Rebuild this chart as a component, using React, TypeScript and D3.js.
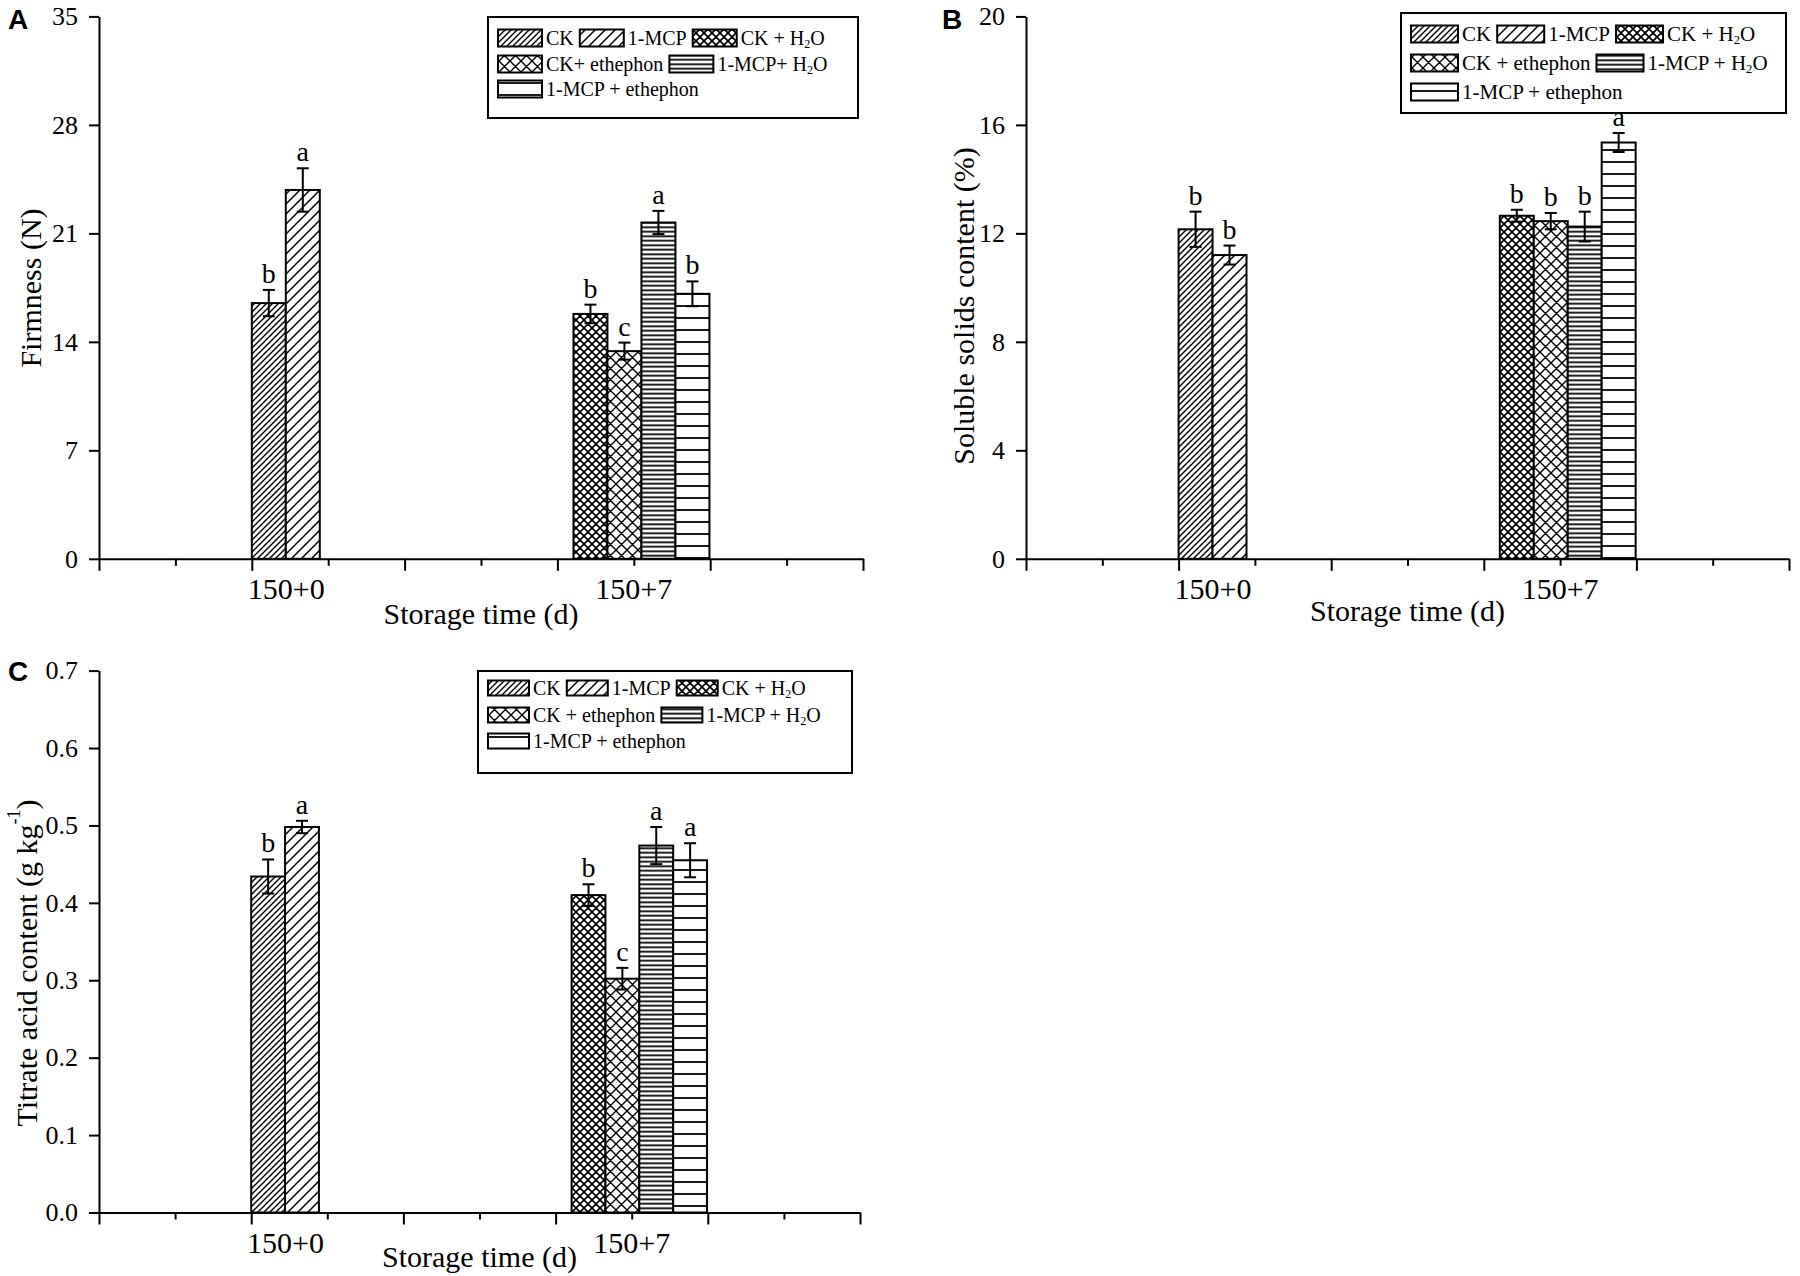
import { useEffect, useRef } from "react"
import * as d3 from "d3"

// categories
const groups = ["150+0", "150+7"]
const groupOf = [0, 0, 1, 1, 1, 1]
const treatments = ["CK", "1-MCP", "CK + H2O", "CK + ethephon", "1-MCP + H2O", "1-MCP + ethephon"]
const groupCenter = [2.445, 7.1]
const groupLabelAt = [2.45, 7.0]
const barW = 0.445

// A: firmness
const firmness = [16.5, 23.8, 15.8, 13.4, 21.7, 17.1]
const firmnessErr = [0.85, 1.4, 0.6, 0.55, 0.75, 0.8]
const firmnessSig = ["b", "a", "b", "c", "a", "b"]
const firmnessTicks = [0, 7, 14, 21, 28, 35]

// B: soluble solids
const soluble = [12.15, 11.2, 12.65, 12.45, 12.25, 15.35]
const solubleErr = [0.65, 0.35, 0.22, 0.3, 0.55, 0.35]
const solubleSig = ["b", "b", "b", "b", "b", "a"]
const solubleTicks = [0, 4, 8, 12, 16, 20]

// C: titrate acid
const titrate = [0.434, 0.498, 0.41, 0.302, 0.474, 0.455]
const titrateErr = [0.022, 0.008, 0.014, 0.014, 0.024, 0.022]
const titrateSig = ["b", "a", "b", "c", "a", "a"]
const titrateTicks = [0, 0.1, 0.2, 0.3, 0.4, 0.5, 0.6, 0.7]

const legendA = ["CK", "1-MCP", "CK + H2O", "CK+ ethephon", "1-MCP+ H2O", "1-MCP + ethephon"]
const legendRows = [[0, 1, 2], [3, 4], [5]]
const patternIds = ["p-ck", "p-mcp", "p-ckh2o", "p-cketh", "p-mcph2o", "p-mcpeth"]

const SERIF = "'Liberation Serif', 'Times New Roman', serif"
const SANS = "'Liberation Sans', Arial, sans-serif"

const panels = [
  {
    tag: "A", tagX: 8, tagY: 29,
    values: firmness, errors: firmnessErr, sig: firmnessSig, ticks: firmnessTicks, yMax: 35, fmt: d3.format("d"),
    left: 99, right: 863, top: 16.4, bottom: 558.8,
    yTitle: "Firmness (N)", yTitleX: 30, yTitleY: 288, xTitleDy: 65,
    legend: { labels: legendA, x: 488, y: 17, w: 370, h: 101, rows: [21, 47, 72], sw: 44, sh: 17, fs: 20 },
  },
  {
    tag: "B", tagX: 942, tagY: 29,
    values: soluble, errors: solubleErr, sig: solubleSig, ticks: solubleTicks, yMax: 20, fmt: d3.format("d"),
    left: 1026, right: 1789, top: 16.4, bottom: 558.8,
    yTitle: "Soluble solids content (%)", yTitleX: 963, yTitleY: 306, xTitleDy: 62,
    legend: { labels: treatments, x: 1401, y: 13, w: 385, h: 100, rows: [21, 50, 79], sw: 47, sh: 17, fs: 21 },
  },
  {
    tag: "C", tagX: 8, tagY: 681,
    values: titrate, errors: titrateErr, sig: titrateSig, ticks: titrateTicks, yMax: 0.7, fmt: d3.format(".1f"),
    left: 99, right: 860, top: 670.6, bottom: 1212.5,
    yTitle: "Titrate acid content (g kg", yTitleX: 26, yTitleY: 963, xTitleDy: 54,
    legend: { labels: treatments, x: 478, y: 671, w: 374, h: 102, rows: [17, 44, 70], sw: 41, sh: 15, fs: 20 },
  },
]

function barLeft(i: number) {
  const gi = groupOf[i]
  const members = groupOf.map((g, j) => (g === gi ? j : -1)).filter((j) => j >= 0)
  const k = members.indexOf(i)
  return groupCenter[gi] - (members.length * barW) / 2 + k * barW
}

function writeLabel(sel: any, label: string, fs: number) {
  const parts = label.split("H2O")
  sel.append("tspan").text(parts[0] + (parts.length > 1 ? "H" : ""))
  if (parts.length > 1) {
    sel.append("tspan").attr("font-size", fs * 0.6).attr("dy", fs * 0.28).text("2")
    sel.append("tspan").attr("dy", -fs * 0.28).text("O" + parts[1])
  }
}

export default function App() {
  const svgRef = useRef<SVGSVGElement>(null)

  useEffect(() => {
    if (!svgRef.current) return
    const svg = d3.select(svgRef.current)
    svg.selectAll("*").remove()

    // hatch patterns
    const defs = svg.append("defs")
    const addPattern = (id: string, w: number, h: number, d: string, sw: number) => {
      const pat = defs.append("pattern").attr("id", id).attr("patternUnits", "userSpaceOnUse").attr("width", w).attr("height", h)
      pat.append("rect").attr("width", w).attr("height", h).attr("fill", "#fff")
      pat.append("path").attr("d", d).attr("stroke", "#000").attr("stroke-width", sw).attr("fill", "none")
    }
    const slash = (w: number) =>
      `M0,${w} L${w},0 M${-w / 2},${w / 2} L${w / 2},${-w / 2} M${w / 2},${w * 1.5} L${w * 1.5},${w / 2}`
    const back = (w: number) =>
      `M0,0 L${w},${w} M${-w / 2},${w / 2} L${w / 2},${w * 1.5} M${w / 2},${-w / 2} L${w * 1.5},${w / 2}`
    addPattern("p-ck", 6, 6, slash(6), 1.4)
    addPattern("p-mcp", 10, 10, slash(10), 1.5)
    addPattern("p-ckh2o", 8, 8, slash(8) + back(8), 1.7)
    addPattern("p-cketh", 11, 11, slash(11) + back(11), 1.4)
    addPattern("p-mcph2o", 8, 4.5, "M0,2.25 L8,2.25", 1.8)
    addPattern("p-mcpeth", 8, 12, "M0,6 L8,6", 1.8)

    panels.forEach((p) => {
      const x = d3.scaleLinear().domain([0, 10]).range([p.left, p.right])
      const y = d3.scaleLinear().domain([0, p.yMax]).range([p.bottom, p.top])
      const g = svg.append("g")

      const data = p.values.map((v, i) => ({ i, v, e: p.errors[i], s: p.sig[i] }))

      // bars
      g.selectAll("rect.bar")
        .data(data)
        .join("rect")
        .attr("class", "bar")
        .attr("x", (d) => x(barLeft(d.i)))
        .attr("width", (d) => x(barLeft(d.i) + barW) - x(barLeft(d.i)))
        .attr("y", (d) => y(d.v))
        .attr("height", (d) => y(0) - y(d.v))
        .attr("fill", (d) => `url(#${patternIds[d.i]})`)
        .attr("stroke", "#000")
        .attr("stroke-width", 2)

      // error bars
      const cx = (d: { i: number }) => x(barLeft(d.i) + barW / 2)
      const eb = g.selectAll("g.err").data(data).join("g").attr("class", "err").attr("stroke", "#000").attr("stroke-width", 2)
      eb.append("line").attr("x1", cx).attr("x2", cx).attr("y1", (d) => y(d.v - d.e)).attr("y2", (d) => y(d.v + d.e))
      eb.append("line").attr("x1", (d) => cx(d) - 6).attr("x2", (d) => cx(d) + 6).attr("y1", (d) => y(d.v + d.e)).attr("y2", (d) => y(d.v + d.e))
      eb.append("line").attr("x1", (d) => cx(d) - 6).attr("x2", (d) => cx(d) + 6).attr("y1", (d) => y(d.v - d.e)).attr("y2", (d) => y(d.v - d.e))

      // significance letters
      g.selectAll("text.sig")
        .data(data)
        .join("text")
        .attr("class", "sig")
        .attr("x", cx)
        .attr("y", (d) => y(d.v + d.e) - 7)
        .attr("text-anchor", "middle")
        .attr("font-family", SERIF)
        .attr("font-size", 28)
        .text((d) => d.s)

      // y axis
      const yAxis = g
        .append("g")
        .attr("transform", `translate(${p.left},0)`)
        .call(d3.axisLeft(y).tickValues(p.ticks).tickSize(10).tickSizeOuter(0).tickPadding(11).tickFormat(p.fmt as any))
      yAxis.selectAll("path, line").attr("stroke", "#000").attr("stroke-width", 2)
      yAxis.selectAll("text").attr("font-family", SERIF).attr("font-size", 26).attr("fill", "#000")

      // x axis: major and minor ticks
      const xMajor = g
        .append("g")
        .attr("transform", `translate(0,${p.bottom})`)
        .call(d3.axisBottom(x).tickValues([0, 2, 4, 6, 8, 10]).tickSize(12).tickSizeOuter(0).tickFormat(() => ""))
      xMajor.selectAll("path, line").attr("stroke", "#000").attr("stroke-width", 2)
      const xMinor = g
        .append("g")
        .attr("transform", `translate(0,${p.bottom})`)
        .call(d3.axisBottom(x).tickValues([1, 3, 5, 7, 9]).tickSize(7).tickSizeOuter(0).tickFormat(() => ""))
      xMinor.select(".domain").remove()
      xMinor.selectAll("line").attr("stroke", "#000").attr("stroke-width", 2)

      // group labels
      g.selectAll("text.grp")
        .data(groups)
        .join("text")
        .attr("class", "grp")
        .attr("x", (_, i) => x(groupLabelAt[i]))
        .attr("y", p.bottom + 40)
        .attr("text-anchor", "middle")
        .attr("font-family", SERIF)
        .attr("font-size", 30)
        .text((d) => d)

      // axis titles
      g.append("text")
        .attr("x", (p.left + p.right) / 2)
        .attr("y", p.bottom + p.xTitleDy)
        .attr("text-anchor", "middle")
        .attr("font-family", SERIF)
        .attr("font-size", 30)
        .text("Storage time (d)")

      const yt = g
        .append("text")
        .attr("transform", `translate(${p.yTitleX},${p.yTitleY}) rotate(-90)`)
        .attr("text-anchor", "middle")
        .attr("dominant-baseline", "central")
        .attr("font-family", SERIF)
        .attr("font-size", 30)
      yt.append("tspan").text(p.yTitle)
      if (p.tag === "C") {
        yt.append("tspan").attr("font-size", 18).attr("dy", -12).text("-1")
        yt.append("tspan").attr("dy", 12).text(")")
      }

      // panel tag
      g.append("text")
        .attr("x", p.tagX)
        .attr("y", p.tagY)
        .attr("font-family", SANS)
        .attr("font-weight", "bold")
        .attr("font-size", 28)
        .text(p.tag)

      // legend
      const L = p.legend
      const lg = g.append("g").attr("transform", `translate(${L.x},${L.y})`)
      lg.append("rect").attr("width", L.w).attr("height", L.h).attr("fill", "#fff").attr("stroke", "#000").attr("stroke-width", 2)
      legendRows.forEach((row, r) => {
        let cur = 10
        row.forEach((i) => {
          const ry = L.rows[r]
          lg.append("rect")
            .attr("x", cur)
            .attr("y", ry - L.sh / 2)
            .attr("width", L.sw)
            .attr("height", L.sh)
            .attr("fill", `url(#${patternIds[i]})`)
            .attr("stroke", "#000")
            .attr("stroke-width", 2)
          const t = lg
            .append("text")
            .attr("x", cur + L.sw + 4)
            .attr("y", ry)
            .attr("dominant-baseline", "central")
            .attr("font-family", SERIF)
            .attr("font-size", L.fs)
          writeLabel(t, L.labels[i], L.fs)
          const tw = (t.node() as SVGTextElement).getComputedTextLength()
          cur += L.sw + 4 + tw + 6
        })
      })
    })
  }, [])

  return (
    <svg
      ref={svgRef}
      width={1800}
      height={1276}
      style={{ position: "absolute", left: 0, top: 0, background: "#fff" }}
    ></svg>
  )
}
